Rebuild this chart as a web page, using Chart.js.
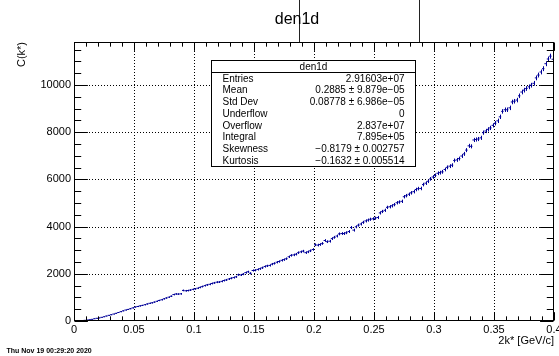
<!DOCTYPE html>
<html><head><meta charset="utf-8">
<script src="https://cdn.jsdelivr.net/npm/chart.js@4.4.0/dist/chart.umd.min.js"></script>
<style>html,body{margin:0;padding:0;background:#fff;overflow:hidden}canvas{display:block}</style>
</head><body>
<canvas id="c" width="559" height="356"></canvas>
<script>
// ---- data ----
const histTitle = 'den1d';
const xMin = 0, xMax = 0.4, binWidth = 0.002;
const yMax = 11820;
const counts = [
  2, 5, 10, 18, 28, 40, 55, 70, 95, 115,
  130, 155, 180, 210, 240, 265, 295, 325, 360, 395,
  430, 465, 490, 520, 555, 590, 615, 640, 660, 690,
  720, 750, 770, 800, 835, 870, 900, 940, 975, 1010,
  1050, 1120, 1145, 1140, 1150, 1295, 1280, 1290, 1310, 1340,
  1360, 1390, 1425, 1460, 1500, 1530, 1555, 1590, 1615, 1645,
  1650, 1680, 1715, 1740, 1780, 1810, 1840, 1870, 1960, 1950,
  1985, 2050, 2085, 2020, 2140, 2150, 2185, 2215, 2255, 2310,
  2335, 2355, 2410, 2440, 2490, 2520, 2570, 2600, 2640, 2720,
  2780, 2800, 2830, 2895, 2930, 2960, 2895, 2930, 2975, 3030,
  3230, 3215, 3240, 3285, 3410, 3360, 3380, 3490, 3545, 3600,
  3690, 3705, 3705, 3740, 3790, 3960, 3850, 3990, 4060, 4110,
  4180, 4240, 4275, 4310, 4330, 4355, 4385, 4580, 4640, 4690,
  4815, 4840, 4880, 4930, 5010, 5040, 5070, 5265, 5310, 5370,
  5430, 5480, 5570, 5610, 5615, 5780, 5840, 5920, 6020, 6100,
  6170, 6260, 6285, 6320, 6420, 6510, 6560, 6600, 6800, 6825,
  6880, 6990, 7080, 7240, 7420, 7400, 7670, 7690, 7710, 7760,
  7980, 8050, 8120, 8180, 8290, 8380, 8480, 8650, 8880, 8950,
  8950, 9030, 9280, 9310, 9360, 9540, 9700, 9780, 9850, 9920,
  9990, 10070, 10300, 10420, 10550, 10690, 10900, 11100, 11220, 11090
];
const xTickLabels = ['0', '0.05', '0.1', '0.15', '0.2', '0.25', '0.3', '0.35', '0.4'];
const yTickLabels = ['0', '2000', '4000', '6000', '8000', '10000'];
const xAxisTitle = '2k* [GeV/c]';
const yAxisTitle = 'C(k*)';
const statsNames = ['Entries', 'Mean', 'Std Dev', 'Underflow', 'Overflow', 'Integral', 'Skewness', 'Kurtosis'];
const statsValues = ['2.91603e+07', '0.2885 \u00b1 9.879e\u221205', '0.08778 \u00b1 6.986e\u221205', '0',
  '2.837e+07', '7.895e+05', '\u22120.8179 \u00b1 0.002757', '\u22120.1632 \u00b1 0.005514'];
const dateText = 'Thu Nov 19 00:29:20 2020';

// ---- build ----
const FONT = "'Liberation Sans', Arial, Helvetica, sans-serif";
const COLOR = '#000099';
const points = counts.map((c, i) => ({ x: xMin + (i + 0.5) * binWidth, y: c }));
const xTickVals = xTickLabels.map(Number);
const yTickVals = yTickLabels.map(Number);

function line(ctx, x1, y1, x2, y2) { ctx.beginPath(); ctx.moveTo(x1, y1); ctx.lineTo(x2, y2); ctx.stroke(); }
function labelFor(vals, labels, v, tol) {
  const i = vals.findIndex(t => Math.abs(t - v) < tol);
  return i >= 0 ? labels[i] : '';
}

const rootPlugin = {
  id: 'rootPlugin',
  beforeDatasetsDraw(chart) {
    const { ctx, chartArea: ca, scales: { x, y } } = chart;
    ctx.save();
    ctx.strokeStyle = '#000'; ctx.lineWidth = 1; ctx.setLineDash([1, 2]);
    xTickVals.slice(1, -1).forEach(v => { const p = Math.round(x.getPixelForValue(v)) + 0.5; line(ctx, p, ca.top, p, ca.bottom); });
    yTickVals.slice(1).forEach(v => { const p = Math.round(y.getPixelForValue(v)) + 0.5; line(ctx, ca.left, p, ca.right, p); });
    ctx.restore();
  },
  afterDatasetsDraw(chart) {
    const { ctx, chartArea: ca, scales: { x, y } } = chart;
    ctx.save();
    ctx.strokeStyle = COLOR; ctx.lineWidth = 1;
    const meta = chart.getDatasetMeta(0);
    meta.data.forEach((pt, i) => {
      const n = counts[i], e = Math.sqrt(n);
      const px = Math.round(pt.x) + 0.5;
      line(ctx, px, y.getPixelForValue(n + e), px, y.getPixelForValue(Math.max(0, n - e)));
    });
    ctx.strokeStyle = '#000';
    const L = Math.round(ca.left) + 0.5, R = Math.round(ca.right) - 0.5, T = Math.round(ca.top) + 0.5, B = Math.round(ca.bottom) - 0.5;
    ctx.strokeRect(L, T, R - L, B - T);
    const fh = B - T, fw = R - L;
    for (let k = 0; k <= 40; k++) {
      const p = Math.round(x.getPixelForValue(k * 0.01)) + 0.5;
      const len = (k % 5 === 0) ? fh * 0.03 : fh * 0.015;
      line(ctx, p, B, p, B - len);
      line(ctx, p, T, p, T + len);
    }
    for (let k = 0; k * 500 <= yMax; k++) {
      const p = Math.round(y.getPixelForValue(k * 500)) + 0.5;
      const len = (k % 4 === 0) ? fw * 0.028 : fw * 0.014;
      line(ctx, L, p, L + len, p);
      line(ctx, R, p, R - len, p);
    }
    const bx = 211.5, by = 60.5, bw = 204, bh = 106;
    ctx.fillStyle = '#fff'; ctx.fillRect(bx, by, bw, bh);
    ctx.strokeRect(bx, by, bw, bh);
    line(ctx, bx, 72.5, bx + bw, 72.5);
    ctx.fillStyle = '#000';
    ctx.font = '10px ' + FONT; ctx.textBaseline = 'middle';
    ctx.textAlign = 'center'; ctx.fillText(histTitle, bx + bw / 2, 67);
    const rows = [79, 90.5, 102.3, 114, 125.8, 137.5, 149.5, 161.2];
    statsNames.forEach((nme, i) => {
      ctx.textAlign = 'left'; ctx.fillText(nme, 222.5, rows[i]);
      ctx.textAlign = 'right'; ctx.fillText(statsValues[i], 404.5, rows[i]);
    });
    ctx.restore();
  },
  afterDraw(chart) {
    const { ctx } = chart;
    ctx.save();
    ctx.strokeStyle = '#222'; ctx.lineWidth = 1;
    line(ctx, 299.5, 0, 299.5, 42);
    line(ctx, 419.5, 0, 419.5, 42);
    ctx.fillStyle = '#000';
    ctx.font = '16px ' + FONT; ctx.textAlign = 'center'; ctx.textBaseline = 'alphabetic';
    ctx.fillText(histTitle, 297, 24);
    ctx.font = 'bold 7px ' + FONT; ctx.textAlign = 'left'; ctx.textBaseline = 'middle';
    ctx.fillText(dateText, 6.5, 351);
    ctx.restore();
  }
};

Chart.defaults.font.family = FONT;
new Chart(document.getElementById('c'), {
  type: 'scatter',
  data: { datasets: [{
    data: points, showLine: false,
    pointStyle: 'line', pointRadius: 1.2, pointHoverRadius: 1.2,
    borderColor: COLOR, backgroundColor: COLOR, borderWidth: 1
  }] },
  options: {
    responsive: false, animation: false, devicePixelRatio: 1,
    events: [],
    layout: { padding: { left: 0, top: 42, right: 5, bottom: 0 } },
    plugins: { legend: { display: false }, tooltip: { enabled: false }, title: { display: false } },
    scales: {
      x: {
        type: 'linear', min: xMin, max: xMax,
        grid: { display: false, drawTicks: false }, border: { display: false },
        ticks: {
          stepSize: 0.05, autoSkip: false, maxRotation: 0, padding: 2,
          color: '#000', font: { size: 11 },
          callback: (v) => labelFor(xTickVals, xTickLabels, v, 1e-6)
        },
        title: { display: true, text: xAxisTitle, align: 'end', color: '#000', font: { size: 11 }, padding: { top: 0, bottom: 8 } },
        afterFit(s) { s.height = 35; s.paddingLeft = 0; s.paddingRight = 0; }
      },
      y: {
        type: 'linear', min: 0, max: yMax,
        afterBuildTicks(s) { s.ticks = yTickVals.map(v => ({ value: v })); },
        grid: { display: false, drawTicks: false }, border: { display: false },
        ticks: {
          autoSkip: false, padding: 3,
          color: '#000', font: { size: 11 },
          callback: (v) => labelFor(yTickVals, yTickLabels, v, 1)
        },
        title: { display: true, text: yAxisTitle, align: 'end', color: '#000', font: { size: 11 }, padding: { top: 15, bottom: 0 } },
        afterFit(s) { s.width = 74; s.paddingTop = 0; s.paddingBottom = 0; }
      }
    }
  },
  plugins: [rootPlugin]
});
</script>
</body></html>
